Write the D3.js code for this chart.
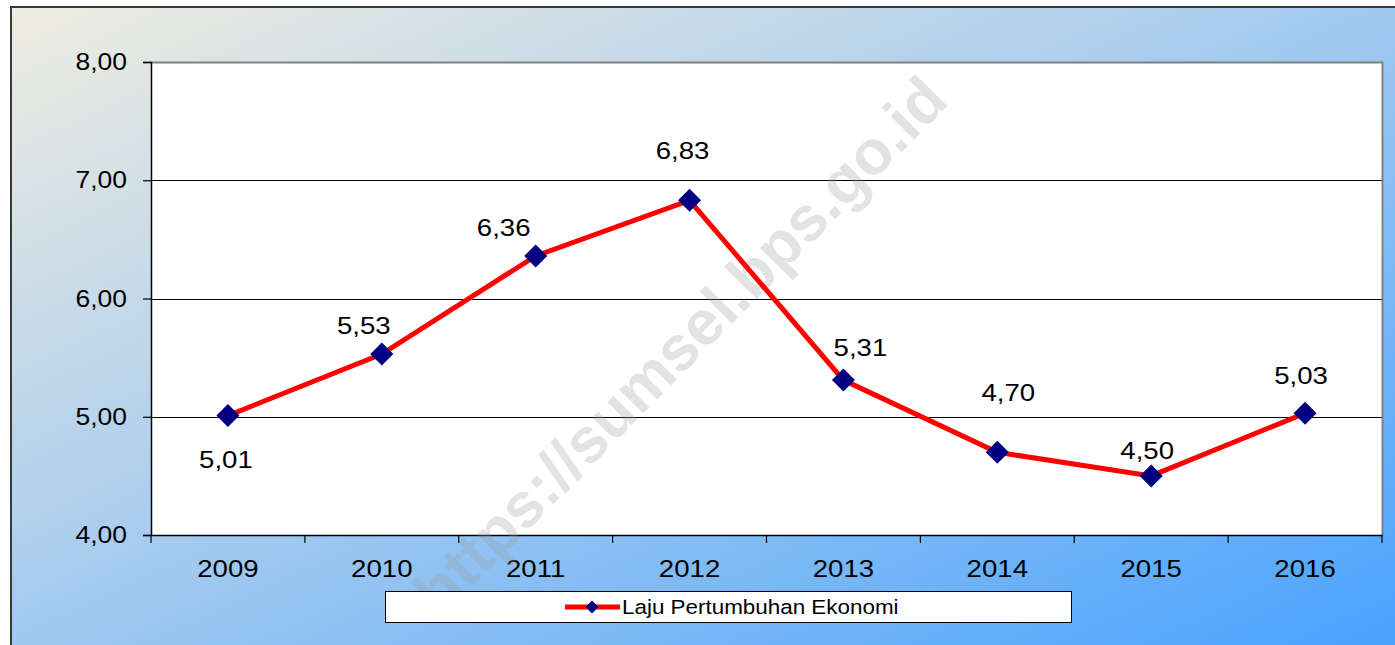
<!DOCTYPE html>
<html><head><meta charset="utf-8">
<script src="https://cdn.jsdelivr.net/npm/d3@7"></script>
<style>html,body{margin:0;padding:0;background:#fff;}svg{display:block;}</style>
</head><body>
<script>
const years = ["2009","2010","2011","2012","2013","2014","2015","2016"];
const growth = [5.01,5.53,6.36,6.83,5.31,4.70,4.50,5.03];
const yTicks = [4,5,6,7,8];
const seriesName = "Laju Pertumbuhan Ekonomi";
const watermark = "https://sumsel.bps.go.id";

// layout: manual data label offsets (px) as placed in the reference
const labelDx = [-2,-18,-32,-7,17,11,-4,-4];
const labelDy = [52,-20,-20,-41,-24,-51,-17,-29];

const W = 1395, H = 645;
const SX = 1.15; // horizontal stretch of text seen in reference
const svg = d3.select("body").append("svg").attr("width", W).attr("height", H);
const defs = svg.append("defs");
const grad = defs.append("linearGradient").attr("id","bg").attr("x1","0").attr("y1","0").attr("x2","1").attr("y2","1");
grad.append("stop").attr("offset","0%").attr("stop-color","#efece0");
grad.append("stop").attr("offset","45%").attr("stop-color","#a9cdee");
grad.append("stop").attr("offset","100%").attr("stop-color","#48a2ff");

svg.append("rect").attr("x",11).attr("y",7).attr("width",W-11+5).attr("height",H-7+5)
  .attr("fill","url(#bg)").attr("stroke","#3a3a3a").attr("stroke-width",2);

const m = {l:151, r:1382, t:62, b:535};
const x = d3.scaleBand().domain(years).range([m.l, m.r]);
const y = d3.scaleLinear().domain([4,8]).range([m.b, m.t]);
const font = "'Liberation Sans', Arial, sans-serif";
const fmt = d => d3.format(".2f")(d).replace(".",",");

function label(g, px, py, txt, size, anchor) {
  return g.append("g").attr("transform",`translate(${px},${py}) scale(${SX},1)`)
    .append("text").attr("text-anchor",anchor||"middle").attr("font-family",font)
    .attr("font-size",size).attr("fill","#000").text(txt);
}

svg.append("rect").attr("x",m.l).attr("y",m.t).attr("width",m.r-m.l).attr("height",m.b-m.t).attr("fill","#fff");

// gridlines
svg.append("g").selectAll("line").data(yTicks.filter(d=>d>4 && d<8)).join("line")
  .attr("x1",m.l).attr("x2",m.r).attr("y1",d=>Math.round(y(d))+0.5).attr("y2",d=>Math.round(y(d))+0.5)
  .attr("stroke","#000").attr("stroke-width",1);

// plot border top/right gray
svg.append("path").attr("d",`M${m.l},${m.t+0.5}H${m.r+0.5}V${m.b}`).attr("fill","none").attr("stroke","#808080").attr("stroke-width",2);

// y axis
const ya = svg.append("g").attr("transform",`translate(${m.l},0)`)
  .call(d3.axisLeft(y).tickValues(yTicks).tickSize(8).tickFormat(""));
ya.select(".domain").attr("stroke","#000").attr("stroke-width",1.5);
ya.selectAll(".tick line").attr("stroke","#000").attr("stroke-width",1.2);
const yl = svg.append("g");
yTicks.forEach(t => label(yl, 127, y(t)+8, fmt(t), 23, "end"));

// x axis
const xa = svg.append("g").attr("transform",`translate(0,${m.b})`)
  .call(d3.axisBottom(x).tickSize(0).tickFormat(""));
xa.select(".domain").attr("stroke","#000").attr("stroke-width",1.5);
svg.append("g").selectAll("line").data(years.concat(["end"])).join("line")
  .attr("x1",(d,i)=>i<years.length? x(d): m.r).attr("x2",(d,i)=>i<years.length? x(d): m.r)
  .attr("y1",m.b).attr("y2",m.b+8).attr("stroke","#000").attr("stroke-width",1.2);
const cx = d => x(d) + x.bandwidth()/2;
const xl = svg.append("g");
years.forEach(yr => label(xl, cx(yr), 577, yr, 24));

// watermark
svg.append("text").attr("transform","translate(680,345) rotate(-45.3)")
  .attr("text-anchor","middle").attr("dominant-baseline","central")
  .attr("font-family",font).attr("font-weight","bold").attr("font-size",63)
  .attr("fill","#9a9a9a").attr("fill-opacity",0.28).text(watermark);

// line
const line = d3.line().x((d,i)=>cx(years[i])).y(d=>y(d));
svg.append("path").datum(growth).attr("d",line).attr("fill","none").attr("stroke","#ff0000").attr("stroke-width",5).attr("stroke-linejoin","miter");

const diamond = (s) => `M0,${-s}L${s},0L0,${s}L${-s},0Z`;
svg.append("g").selectAll("path").data(growth).join("path")
  .attr("transform",(d,i)=>`translate(${cx(years[i])},${y(d)})`)
  .attr("d",diamond(11.5)).attr("fill","#000080");

// data labels
const dl = svg.append("g");
growth.forEach((v,i) => label(dl, cx(years[i]) + labelDx[i], y(v) + labelDy[i], fmt(v), 24));

// legend
const lg = svg.append("g");
lg.append("rect").attr("x",385.5).attr("y",591.5).attr("width",686).attr("height",31).attr("fill","#fff").attr("stroke","#000").attr("stroke-width",1);
lg.append("line").attr("x1",565).attr("x2",620).attr("y1",607).attr("y2",607).attr("stroke","#ff0000").attr("stroke-width",5);
lg.append("path").attr("transform","translate(592,607)").attr("d",diamond(6.5)).attr("fill","#000080");
label(lg, 622, 614, seriesName, 19.5, "start");
</script>
</body></html>
